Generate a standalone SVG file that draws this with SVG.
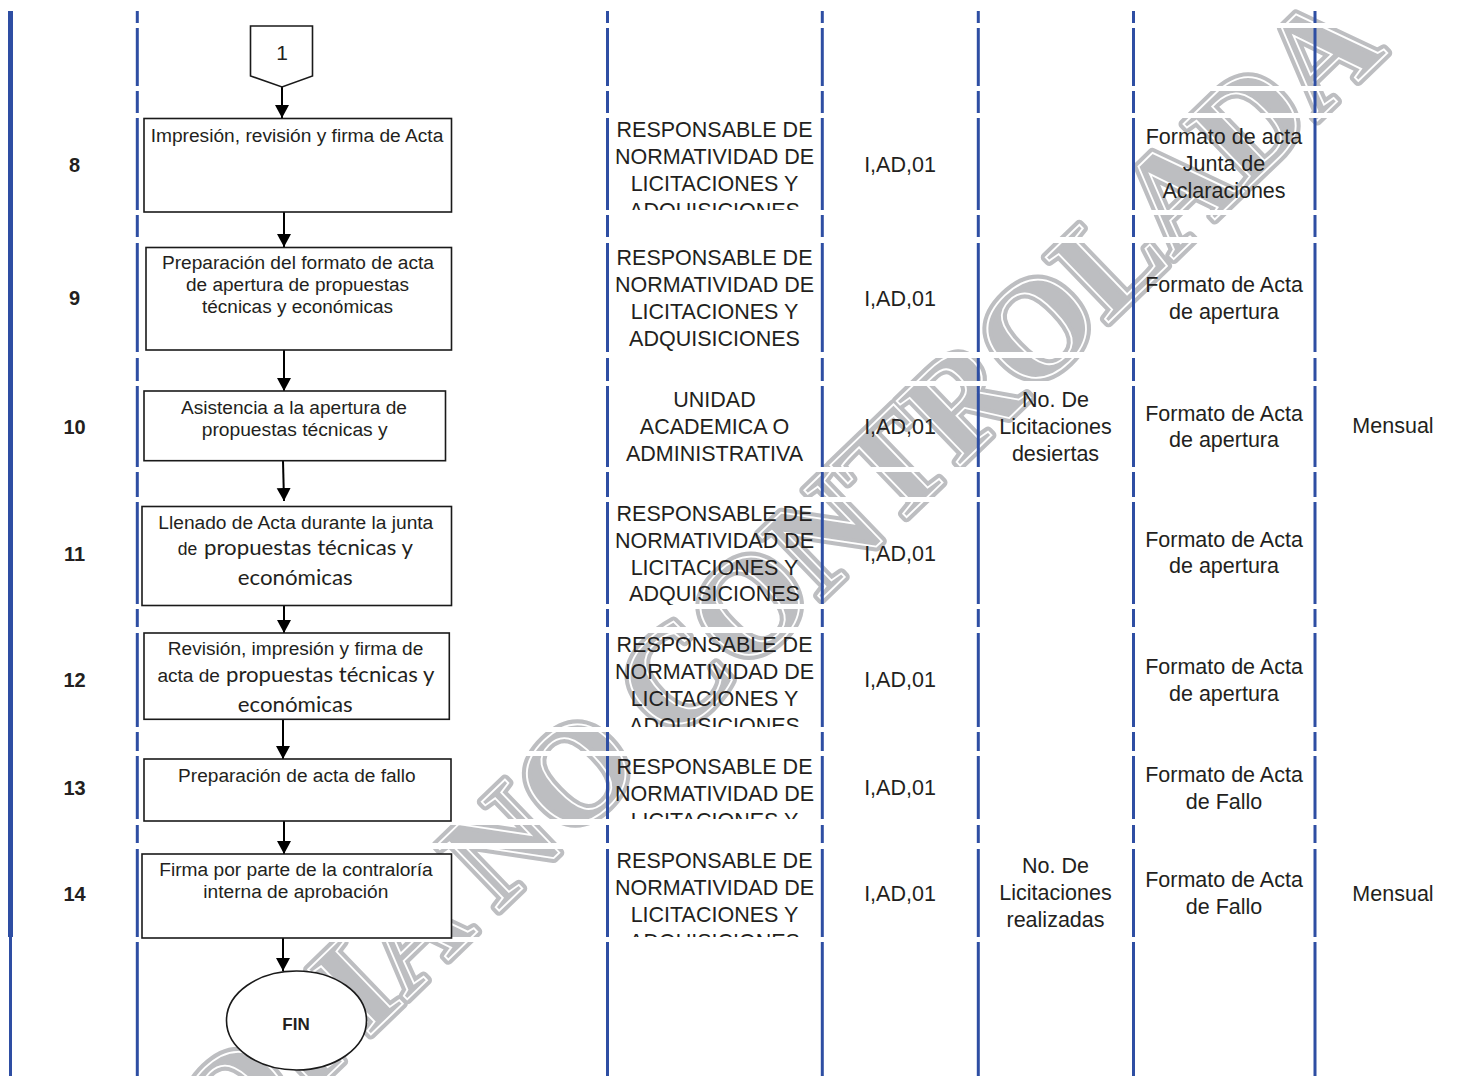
<svg xmlns="http://www.w3.org/2000/svg" width="1462" height="1076" viewBox="0 0 1462 1076">
<style>
  .wm { font-family: "Liberation Serif", "Times New Roman", serif; font-weight: bold; font-size: 138px; }
  .wmf { fill: #bdbec1; stroke: #bdbec1; stroke-width: 10; stroke-linejoin: round; }
  .wms { fill: none; stroke: #ffffff; stroke-width: 1.8; }
  .vl { stroke: #2e4ea3; stroke-width: 3; fill: none; }
  .gap { fill: #ffffff; }
  .box { fill: #ffffff; stroke: #1a1a1a; stroke-width: 1.6; }
  .conn { stroke: #000000; stroke-width: 2; fill: none; }
  .bt { font-family: "Liberation Sans", Arial, sans-serif; font-size: 18px; fill: #231f20; }
  .bl { font-family: Lato, "Open Sans", sans-serif; font-size: 20.5px; fill: #231f20; }
  .tt { font-family: "Liberation Sans", Arial, sans-serif; font-size: 21.5px; fill: #231f20; text-anchor: middle; }
  .num { font-family: "Liberation Sans", Arial, sans-serif; font-size: 20px; font-weight: bold; fill: #231f20; text-anchor: middle; }
</style>
<defs>
  <marker id="arr" markerUnits="userSpaceOnUse" markerWidth="16" markerHeight="15" refX="13" refY="7" orient="auto">
    <path d="M0,0 L13,7 L0,14 Z" fill="#000000"/>
  </marker>
  <clipPath id="r8"><rect x="600" y="118" width="862" height="92"/></clipPath>
  <clipPath id="r9"><rect x="600" y="243" width="862" height="109"/></clipPath>
  <clipPath id="r10"><rect x="600" y="386" width="862" height="81"/></clipPath>
  <clipPath id="r11"><rect x="600" y="502" width="862" height="103"/></clipPath>
  <clipPath id="r12"><rect x="600" y="633" width="862" height="94"/></clipPath>
  <clipPath id="r13"><rect x="600" y="756" width="862" height="63"/></clipPath>
  <clipPath id="r14"><rect x="600" y="849" width="862" height="88"/></clipPath>
</defs>
<rect x="0" y="0" width="1462" height="1076" fill="#ffffff"/>

<g id="watermark" transform="translate(158,1240) rotate(-44)">
  <text class="wm wmf" x="0" y="0">COPIA NO CONTROLADA</text>
  <text class="wm wms" x="0" y="0">COPIA NO CONTROLADA</text>
</g>

<g id="grid">
  <line class="vl" x1="137.3" y1="11" x2="137.3" y2="1076"/>
  <line class="vl" x1="607.5" y1="11" x2="607.5" y2="1076"/>
  <line class="vl" x1="822.3" y1="11" x2="822.3" y2="1076"/>
  <line class="vl" x1="978.3" y1="11" x2="978.3" y2="1076"/>
  <line class="vl" x1="1133.5" y1="11" x2="1133.5" y2="1076"/>
  <line class="vl" x1="1315" y1="11" x2="1315" y2="1076"/>
  <g id="row-gaps">
    <rect class="gap" x="14" y="23" width="1448" height="5"/>
    <rect class="gap" x="14" y="86" width="1448" height="5"/>
    <rect class="gap" x="14" y="113" width="1448" height="5"/>
    <rect class="gap" x="14" y="210" width="1448" height="5"/>
    <rect class="gap" x="14" y="237" width="1448" height="6"/>
    <rect class="gap" x="14" y="352" width="1448" height="6"/>
    <rect class="gap" x="14" y="381" width="1448" height="5"/>
    <rect class="gap" x="14" y="467" width="1448" height="5"/>
    <rect class="gap" x="14" y="497" width="1448" height="5"/>
    <rect class="gap" x="14" y="604" width="1448" height="5"/>
    <rect class="gap" x="14" y="627" width="1448" height="6"/>
    <rect class="gap" x="14" y="727" width="1448" height="5"/>
    <rect class="gap" x="14" y="751" width="1448" height="5"/>
    <rect class="gap" x="14" y="819" width="1448" height="6"/>
    <rect class="gap" x="14" y="843" width="1448" height="6"/>
    <rect class="gap" x="14" y="937" width="1448" height="5"/>
  </g>
  <rect x="8" y="11" width="5" height="926" fill="#2e4ea3"/>
  <rect x="9" y="937" width="3" height="139" fill="#2e4ea3"/>
</g>

<g id="row-numbers">
  <text class="num" x="74.5" y="172">8</text>
  <text class="num" x="74.5" y="305">9</text>
  <text class="num" x="74.5" y="434">10</text>
  <text class="num" x="74.5" y="561">11</text>
  <text class="num" x="74.5" y="687">12</text>
  <text class="num" x="74.5" y="795">13</text>
  <text class="num" x="74.5" y="901">14</text>
</g>

<g id="connectors">
  <line class="conn" x1="282" y1="87" x2="282" y2="118" marker-end="url(#arr)"/>
  <line class="conn" x1="284" y1="212" x2="284" y2="247" marker-end="url(#arr)"/>
  <line class="conn" x1="284" y1="350" x2="284" y2="391" marker-end="url(#arr)"/>
  <line class="conn" x1="283" y1="461" x2="284" y2="501" marker-end="url(#arr)"/>
  <line class="conn" x1="284" y1="606" x2="284" y2="633" marker-end="url(#arr)"/>
  <line class="conn" x1="283" y1="719" x2="283" y2="759" marker-end="url(#arr)"/>
  <line class="conn" x1="284" y1="821" x2="284" y2="854" marker-end="url(#arr)"/>
  <line class="conn" x1="283" y1="938" x2="283" y2="971" marker-end="url(#arr)"/>
</g>

<g id="node-1">
  <polygon class="box" points="250.5,26 312.5,26 312.5,76 282,87 250.5,76"/>
  <text x="282" y="60" text-anchor="middle" font-family="Liberation Sans, Arial, sans-serif" font-size="21" fill="#231f20">1</text>
</g>

<g id="node-8">
  <rect class="box" x="144" y="118.5" width="307.5" height="93.5"/>
  <text class="bt" x="297" y="142" text-anchor="middle" textLength="292.6" lengthAdjust="spacingAndGlyphs">Impresión, revisión y firma de Acta</text>
</g>

<g id="node-9">
  <rect class="box" x="146" y="247.5" width="305.5" height="102.5"/>
  <text class="bt" x="298" y="269" text-anchor="middle" textLength="272" lengthAdjust="spacingAndGlyphs">Preparación del formato de acta</text>
  <text class="bt" x="297.5" y="291" text-anchor="middle" textLength="223" lengthAdjust="spacingAndGlyphs">de apertura de propuestas</text>
  <text class="bt" x="297.5" y="313" text-anchor="middle" textLength="191" lengthAdjust="spacingAndGlyphs">técnicas y económicas</text>
</g>

<g id="node-10">
  <rect class="box" x="144" y="391" width="301.5" height="69.7"/>
  <text class="bt" x="294" y="414" text-anchor="middle" textLength="226" lengthAdjust="spacingAndGlyphs">Asistencia a la apertura de</text>
  <text class="bt" x="294.7" y="436" text-anchor="middle" textLength="186" lengthAdjust="spacingAndGlyphs">propuestas técnicas y</text>
</g>

<g id="node-11">
  <rect class="box" x="142" y="506.5" width="309.5" height="99"/>
  <text class="bt" x="295.8" y="529" text-anchor="middle" textLength="275" lengthAdjust="spacingAndGlyphs">Llenado de Acta durante la junta</text>
  <text class="bt" x="177.7" y="555" textLength="19.5" lengthAdjust="spacingAndGlyphs">de</text>
  <text class="bl" x="204" y="555" textLength="209" lengthAdjust="spacingAndGlyphs">propuestas técnicas y</text>
  <text class="bl" x="295.2" y="585" text-anchor="middle" textLength="115" lengthAdjust="spacingAndGlyphs">económicas</text>
</g>

<g id="node-12">
  <rect class="box" x="144" y="633" width="305.3" height="86.3"/>
  <text class="bt" x="295.6" y="655" text-anchor="middle" textLength="255.5" lengthAdjust="spacingAndGlyphs">Revisión, impresión y firma de</text>
  <text class="bt" x="157.4" y="682" textLength="62.6" lengthAdjust="spacingAndGlyphs">acta de</text>
  <text class="bl" x="226" y="682" textLength="208.3" lengthAdjust="spacingAndGlyphs">propuestas técnicas y</text>
  <text class="bl" x="295.2" y="712" text-anchor="middle" textLength="115" lengthAdjust="spacingAndGlyphs">económicas</text>
</g>

<g id="node-13">
  <rect class="box" x="144" y="759" width="307" height="62"/>
  <text class="bt" x="296.9" y="782" text-anchor="middle" textLength="237.6" lengthAdjust="spacingAndGlyphs">Preparación de acta de fallo</text>
</g>

<g id="node-14">
  <rect class="box" x="142" y="854" width="309.5" height="84"/>
  <text class="bt" x="296" y="876" text-anchor="middle" textLength="273.4" lengthAdjust="spacingAndGlyphs">Firma por parte de la contraloría</text>
  <text class="bt" x="295.8" y="898" text-anchor="middle" textLength="185" lengthAdjust="spacingAndGlyphs">interna de aprobación</text>
</g>

<g id="node-fin">
  <ellipse class="box" cx="296.5" cy="1020.5" rx="70" ry="49.5"/>
  <text x="296" y="1030" text-anchor="middle" font-family="Liberation Sans, Arial, sans-serif" font-size="17" font-weight="bold" fill="#231f20">FIN</text>
</g>

<g id="row-8" clip-path="url(#r8)">
  <text class="tt" x="714.5" y="137">RESPONSABLE DE</text>
  <text class="tt" x="714.5" y="164">NORMATIVIDAD DE</text>
  <text class="tt" x="714.5" y="191">LICITACIONES Y</text>
  <text class="tt" x="714.5" y="218">ADQUISICIONES</text>
  <text class="tt" x="900" y="172">I,AD,01</text>
  <text class="tt" x="1224" y="144">Formato de acta</text>
  <text class="tt" x="1224" y="171">Junta de</text>
  <text class="tt" x="1224" y="198">Aclaraciones</text>
</g>

<g id="row-9" clip-path="url(#r9)">
  <text class="tt" x="714.5" y="265">RESPONSABLE DE</text>
  <text class="tt" x="714.5" y="292">NORMATIVIDAD DE</text>
  <text class="tt" x="714.5" y="319">LICITACIONES Y</text>
  <text class="tt" x="714.5" y="346">ADQUISICIONES</text>
  <text class="tt" x="900" y="306">I,AD,01</text>
  <text class="tt" x="1224" y="292">Formato de Acta</text>
  <text class="tt" x="1224" y="319">de apertura</text>
</g>

<g id="row-10" clip-path="url(#r10)">
  <text class="tt" x="714.5" y="407">UNIDAD</text>
  <text class="tt" x="714.5" y="434">ACADEMICA O</text>
  <text class="tt" x="714.5" y="461">ADMINISTRATIVA</text>
  <text class="tt" x="900" y="434">I,AD,01</text>
  <text class="tt" x="1055.5" y="407">No. De</text>
  <text class="tt" x="1055.5" y="434">Licitaciones</text>
  <text class="tt" x="1055.5" y="461">desiertas</text>
  <text class="tt" x="1224" y="421">Formato de Acta</text>
  <text class="tt" x="1224" y="447">de apertura</text>
  <text class="tt" x="1393" y="433">Mensual</text>
</g>

<g id="row-11" clip-path="url(#r11)">
  <text class="tt" x="714.5" y="521">RESPONSABLE DE</text>
  <text class="tt" x="714.5" y="548">NORMATIVIDAD DE</text>
  <text class="tt" x="714.5" y="575">LICITACIONES Y</text>
  <text class="tt" x="714.5" y="601">ADQUISICIONES</text>
  <text class="tt" x="900" y="561">I,AD,01</text>
  <text class="tt" x="1224" y="547">Formato de Acta</text>
  <text class="tt" x="1224" y="573">de apertura</text>
</g>

<g id="row-12" clip-path="url(#r12)">
  <text class="tt" x="714.5" y="652">RESPONSABLE DE</text>
  <text class="tt" x="714.5" y="679">NORMATIVIDAD DE</text>
  <text class="tt" x="714.5" y="706">LICITACIONES Y</text>
  <text class="tt" x="714.5" y="733">ADQUISICIONES</text>
  <text class="tt" x="900" y="687">I,AD,01</text>
  <text class="tt" x="1224" y="674">Formato de Acta</text>
  <text class="tt" x="1224" y="701">de apertura</text>
</g>

<g id="row-13" clip-path="url(#r13)">
  <text class="tt" x="714.5" y="774">RESPONSABLE DE</text>
  <text class="tt" x="714.5" y="801">NORMATIVIDAD DE</text>
  <text class="tt" x="714.5" y="828">LICITACIONES Y</text>
  <text class="tt" x="900" y="795">I,AD,01</text>
  <text class="tt" x="1224" y="782">Formato de Acta</text>
  <text class="tt" x="1224" y="809">de Fallo</text>
</g>

<g id="row-14" clip-path="url(#r14)">
  <text class="tt" x="714.5" y="868">RESPONSABLE DE</text>
  <text class="tt" x="714.5" y="895">NORMATIVIDAD DE</text>
  <text class="tt" x="714.5" y="922">LICITACIONES Y</text>
  <text class="tt" x="714.5" y="949">ADQUISICIONES</text>
  <text class="tt" x="900" y="901">I,AD,01</text>
  <text class="tt" x="1055.5" y="873">No. De</text>
  <text class="tt" x="1055.5" y="900">Licitaciones</text>
  <text class="tt" x="1055.5" y="927">realizadas</text>
  <text class="tt" x="1224" y="887">Formato de Acta</text>
  <text class="tt" x="1224" y="914">de Fallo</text>
  <text class="tt" x="1393" y="901">Mensual</text>
</g>
</svg>
